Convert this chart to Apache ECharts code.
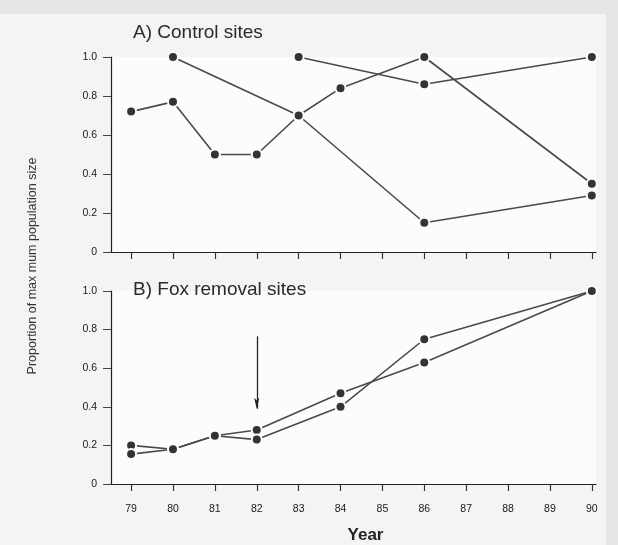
<!DOCTYPE html>
<html>
<head>
<meta charset="utf-8">
<script src="https://cdn.jsdelivr.net/npm/echarts@6/dist/echarts.min.js"></script>
<style>
  html, body { margin: 0; padding: 0; background: #f4f4f4; }
  #chart { width: 618px; height: 545px; }
</style>
</head>
<body>
<div id="chart"></div>
<script>
// year ticks shared by both panels
const yearTicks = [79, 80, 81, 82, 83, 84, 85, 86, 87, 88, 89, 90];

// A) control sites - three sites
const ctlYearsA = [79, 80, 81, 82, 83, 84, 86, 90];
const ctlA = [0.72, 0.77, 0.50, 0.50, 0.70, 0.84, 1.0, 0.35];
const ctlYearsB = [80, 83, 86, 90];
const ctlB = [1.0, 0.70, 0.15, 0.29];
const ctlYearsC = [83, 86, 90];
const ctlC = [1.0, 0.86, 1.0];

// B) fox removal sites - two sites
const foxYears = [79, 80, 81, 82, 84, 86, 90];
const foxA = [0.20, 0.18, 0.25, 0.28, 0.47, 0.63, 1.0];
const foxB = [0.155, 0.18, 0.25, 0.23, 0.40, 0.75, 1.0];

// fox removal start (arrow)
const arrowYear = 82;
const arrowFrom = 0.765;
const arrowTo = 0.39;

const plotBg = '#fcfcfc';

function pairs(xs, ys) {
  return xs.map((x, i) => [x, ys[i]]);
}

function line(name, data, idx) {
  return {
    name: name,
    type: 'line',
    xAxisIndex: idx,
    yAxisIndex: idx,
    data: data,
    symbol: 'circle',
    symbolSize: 10,
    lineStyle: { color: '#4a4a4a', width: 1.6 },
    itemStyle: { color: '#333', borderColor: plotBg, borderWidth: 2 },
    emphasis: { disabled: true },
    animation: false
  };
}

function xAxis(idx, showLabels) {
  return {
    type: 'value',
    gridIndex: idx,
    min: 78.52,
    max: 90.1,
    axisLine: { lineStyle: { color: '#222', width: 1.2 } },
    axisTick: { show: true, customValues: yearTicks, length: 7, lineStyle: { color: '#333', width: 1.2 } },
    axisLabel: {
      show: showLabels,
      customValues: yearTicks,
      margin: 20,
      fontSize: 10.5,
      color: '#1a1a1a',
      fontFamily: 'Liberation Sans'
    },
    splitLine: { show: false },
    name: showLabels ? 'Year' : '',
    nameLocation: 'middle',
    nameGap: 43,
    nameTextStyle: { fontSize: 17, fontWeight: 'bold', color: '#222', fontFamily: 'Liberation Sans', padding: [0, 0, 0, 24] }
  };
}

function yAxis(idx) {
  return {
    type: 'value',
    gridIndex: idx,
    min: 0,
    max: 1,
    interval: 0.2,
    axisLine: { show: true, lineStyle: { color: '#222', width: 1.2 } },
    axisTick: { show: true, length: 8, lineStyle: { color: '#444', width: 1 } },
    axisLabel: {
      margin: 14,
      fontSize: 10.5,
      color: '#1a1a1a',
      fontFamily: 'Liberation Sans',
      formatter: v => v === 0 ? '0' : v.toFixed(1)
    },
    splitLine: { show: false }
  };
}

const chart = echarts.init(document.getElementById('chart'), null, { renderer: 'canvas' });

const foxSeries = line('Fox A', pairs(foxYears, foxA), 1);
foxSeries.markLine = {
  silent: true,
  symbol: ['none', 'arrow'],
  symbolSize: [4, 11],
  label: { show: false },
  lineStyle: { color: '#222', width: 1.3, type: 'solid' },
  data: [[{ coord: [arrowYear, arrowFrom] }, { coord: [arrowYear, arrowTo] }]]
};

chart.setOption({
  backgroundColor: '#f4f4f4',
  animation: false,
  title: [
    { text: 'A) Control sites', left: 128, top: 18,
      textStyle: { fontSize: 19, fontWeight: 'normal', color: '#2a2a2a', fontFamily: 'Liberation Sans' } },
    { text: 'B) Fox removal sites', left: 128, top: 275,
      textStyle: { fontSize: 19, fontWeight: 'normal', color: '#2a2a2a', fontFamily: 'Liberation Sans' } }
  ],
  grid: [
    { left: 111, top: 57, width: 485, height: 195, show: true, backgroundColor: plotBg, borderWidth: 0 },
    { left: 111, top: 291, width: 485, height: 195, show: true, backgroundColor: plotBg, borderWidth: 0 }
  ],
  xAxis: [xAxis(0, false), xAxis(1, true)],
  yAxis: [yAxis(0), yAxis(1)],
  graphic: [
    { type: 'rect', z: -10, shape: { x: 0, y: 0, width: 618, height: 14 }, style: { fill: '#e6e6e6' } },
    { type: 'rect', z: -10, shape: { x: 606, y: 0, width: 12, height: 545 }, style: { fill: '#e6e6e6' } },
    {
      type: 'text',
      x: 33,
      y: 266,
      rotation: Math.PI / 2,
      style: {
        text: 'Proportion of max mum population size',
        fontSize: 12.5,
        fill: '#333',
        fontFamily: 'Liberation Sans',
        align: 'center',
        verticalAlign: 'middle'
      }
    }
  ],
  series: [
    line('Control A', pairs(ctlYearsA, ctlA), 0),
    line('Control B', pairs(ctlYearsB, ctlB), 0),
    line('Control C', pairs(ctlYearsC, ctlC), 0),
    foxSeries,
    line('Fox B', pairs(foxYears, foxB), 1)
  ]
});
</script>
</body>
</html>
